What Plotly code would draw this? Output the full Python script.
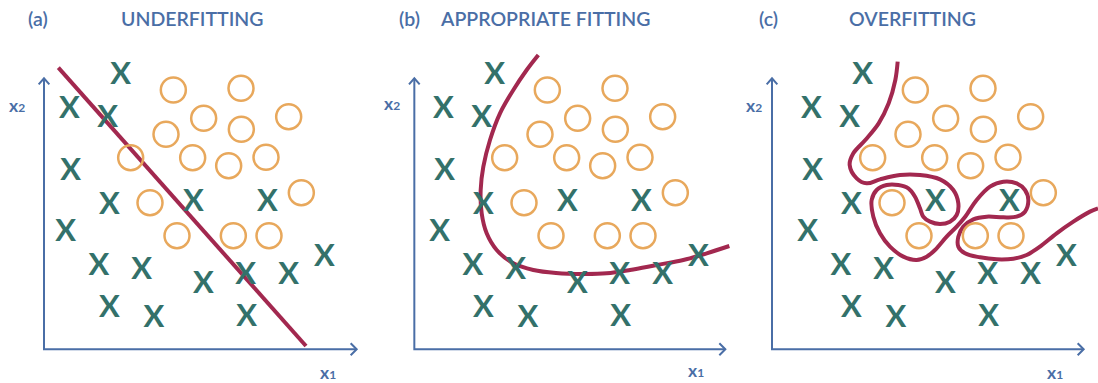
import plotly.graph_objects as go

# shared sample points (x1, x2) used in all three panels
cross_x1 = [23.0, 7.6, 19.1, 8.0, 19.6, 44.8, 67.0, 6.5, 16.5, 29.3, 47.8, 60.5, 73.4, 84.1, 19.6, 33.0, 60.8]
cross_x2 = [82.0, 71.8, 69.0, 53.0, 42.8, 43.8, 43.8, 34.8, 24.6, 23.3, 19.3, 21.8, 22.0, 27.3, 12.0, 9.0, 9.3]

circle_x1 = [38.8, 59.1, 47.9, 59.2, 73.4, 36.6, 26.0, 44.6, 55.4, 66.6, 77.2, 31.8, 39.9, 56.8, 67.5]
circle_x2 = [77.8, 78.3, 69.3, 66.0, 69.8, 64.5, 57.5, 57.5, 55.1, 57.6, 47.0, 44.0, 34.1, 34.1, 34.1]

# (a) straight boundary
under_x1 = [4.3, 78.6]
under_x2 = [84.5, 1.0]

# (b) smooth boundary
fit_x1 = [36.1, 32.6, 28.6, 24.6, 21.6, 19.6, 18.8, 19.1, 20.6, 23.6, 28.6, 34.6, 41.4, 49.6, 56.6, 63.6, 71.6, 79.6, 86.6, 93.4]
fit_x2 = [88.3, 83.8, 77.8, 70.8, 62.8, 54.8, 47.8, 40.8, 34.8, 29.8, 25.8, 23.8, 22.9, 22.6, 22.8, 23.8, 25.3, 26.8, 28.8, 31.0]

# (c) wiggly boundary
over_x1 = [33.5, 32.8, 30.8, 27.8, 23.8, 20.2, 19.1, 21.2, 24.2, 28.2, 34.2, 40.2, 46.2, 50.2, 51.7, 51.2, 49.2, 46.2,
           43.2, 41.2, 40.2, 38.7, 36.7, 33.7, 30.2, 27.2, 25.7, 26.2, 28.2, 31.2, 35.2, 39.2, 42.2, 44.7, 48.2, 51.2,
           53.7, 57.2, 61.2, 65.2, 69.2, 71.7, 72.7, 71.7, 69.2, 65.2, 60.2, 56.2, 53.2, 51.7, 51.7, 53.7, 58.2, 63.2,
           68.2, 72.2, 76.2, 81.2, 86.2, 91.2, 93.6]
over_x2 = [86.3, 80.8, 73.8, 67.8, 62.8, 58.8, 55.3, 51.3, 49.8, 51.0, 52.3, 52.3, 51.0, 47.8, 43.8, 40.3, 38.3, 37.6,
           38.3, 39.8, 42.3, 45.8, 48.3, 49.3, 49.3, 47.8, 44.8, 39.8, 34.8, 30.8, 27.8, 26.8, 27.8, 29.8, 33.8, 36.8,
           39.7, 44.8, 48.8, 50.3, 49.8, 47.8, 44.8, 41.3, 39.8, 39.6, 39.8, 39.0, 36.8, 33.8, 30.8, 28.8, 27.6, 27.0,
           27.2, 28.3, 30.8, 34.8, 38.3, 41.3, 42.3]

panels = ["(a)", "(b)", "(c)"]
titles = ["UNDERFITTING", "APPROPRIATE FITTING", "OVERFITTING"]

BLUE = "#4a6ea6"
TEAL = "#33716a"
ORANGE = "#e8a85c"
MAROON = "#a2284f"

W, H = 1098, 383
S = 10 / 3  # pixels per data unit
panel_w = W / 3
zero_px = [44, 418, 786]       # where x1 = 0 sits in each panel
axis_start = [0, -1.1, -4.2]   # where the drawn axes cross
axis_end = [93.8, 92.2, 89.3]
y_top = 81.3
x2_label = [(-8.0, 73.3), (-7.8, 73.8), (-9.7, 73.3)]
x1_label = [(85.3, -6.9), (83.4, -6.3), (80.7, -6.9)]
tag_x = [-1.9, -2.6, -5.4]
title_x = [22.6, 5.9, 18.3]

fig = go.Figure()

for i in range(3):
    xa = "x" if i == 0 else f"x{i + 1}"
    ya = "y" if i == 0 else f"y{i + 1}"
    x0 = axis_start[i]

    # axes with open arrowheads
    fig.add_trace(go.Scatter(x=[x0, x0, axis_end[i]], y=[y_top, 0, 0], mode="lines",
                             line=dict(color=BLUE, width=2), xaxis=xa, yaxis=ya, hoverinfo="skip"))
    fig.add_trace(go.Scatter(x=[x0 - 1.6, x0, x0 + 1.6], y=[y_top - 1.8, y_top, y_top - 1.8], mode="lines",
                             line=dict(color=BLUE, width=2), xaxis=xa, yaxis=ya, hoverinfo="skip"))
    fig.add_trace(go.Scatter(x=[axis_end[i] - 1.8, axis_end[i], axis_end[i] - 1.8], y=[1.8, 0, -1.8], mode="lines",
                             line=dict(color=BLUE, width=2), xaxis=xa, yaxis=ya, hoverinfo="skip"))

    # decision boundary
    if i == 0:
        bx, by, shape = under_x1, under_x2, "linear"
    elif i == 1:
        bx, by, shape = fit_x1, fit_x2, "spline"
    else:
        bx, by, shape = over_x1, over_x2, "spline"
    fig.add_trace(go.Scatter(x=bx, y=by, mode="lines", line=dict(color=MAROON, width=4, shape=shape),
                             xaxis=xa, yaxis=ya, hoverinfo="skip", cliponaxis=False))

    # classes
    fig.add_trace(go.Scatter(x=circle_x1, y=circle_x2, mode="markers",
                             marker=dict(symbol="circle-open", size=25, color=ORANGE, line=dict(width=2.5)),
                             xaxis=xa, yaxis=ya, cliponaxis=False))
    fig.add_trace(go.Scatter(x=cross_x1, y=cross_x2, mode="text", text=["X"] * len(cross_x1),
                             textposition="middle center",
                             textfont=dict(family="Lato", size=31, color=TEAL, weight="bold"),
                             xaxis=xa, yaxis=ya, cliponaxis=False))

    # labels
    lab_font = dict(family="Lato", size=17.5, color=BLUE, weight="bold")
    fig.add_annotation(x=x2_label[i][0], y=x2_label[i][1], xref=xa, yref=ya, showarrow=False,
                       text="x<span style='font-size:12px'>2</span>", font=lab_font)
    fig.add_annotation(x=x1_label[i][0], y=x1_label[i][1], xref=xa, yref=ya, showarrow=False, borderpad=0,
                       text="x<span style='font-size:12px'>1</span>", font=lab_font)
    title_font = dict(family="Lato", size=19.5, color=BLUE, weight=600)
    fig.add_annotation(x=tag_x[i], y=99.3, xref=xa, yref=ya, showarrow=False, text=panels[i], font=title_font)
    fig.add_annotation(x=title_x[i], y=99.3, xref=xa, yref=ya, showarrow=False, xanchor="left",
                       text=titles[i], font=title_font)

    left = i * panel_w
    rng = [(left - zero_px[i]) / S, (left + panel_w - zero_px[i]) / S]
    ax = dict(domain=[i / 3, (i + 1) / 3], range=rng, visible=False, fixedrange=True)
    ay = dict(domain=[0, 1], range=[-(H - 349.33) / S, 349.33 / S], visible=False, fixedrange=True)
    if i > 0:
        ay["anchor"] = xa
        ax["anchor"] = ya
    fig.update_layout({("xaxis" if i == 0 else f"xaxis{i + 1}"): ax,
                       ("yaxis" if i == 0 else f"yaxis{i + 1}"): ay})

fig.update_layout(width=W, height=H, margin=dict(l=0, r=0, t=0, b=0), showlegend=False,
                  plot_bgcolor="white", paper_bgcolor="white")

fig.write_html("out.html", config={"displayModeBar": False},
               post_script="document.body.style.margin='0';")
